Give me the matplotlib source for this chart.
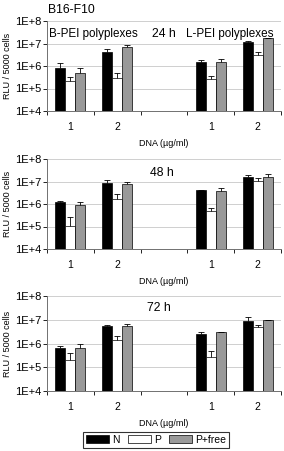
import matplotlib
matplotlib.use("Agg")
import matplotlib.pyplot as plt
import numpy as np

plt.rcParams['font.family'] = ['Liberation Sans', 'DejaVu Sans']

# category labels along x (blank slot separates B-PEI from L-PEI)
cats = ["1", "2", "", "1", "2"]
series = ["N", "P", "P+free"]
colors = ["black", "white", "#999999"]

# values per panel: [B1, B2, gap, L1, L2]
n_24 = [8.5e5, 4.0e6, np.nan, 1.5e6, 1.12e7]
p_24 = [2.2e5, 2.8e5, np.nan, 2.6e5, 3.1e6]
pf_24 = [4.7e5, 6.8e6, np.nan, 1.45e6, 1.7e7]
n_24_err = [1.3e6, 5.5e6, np.nan, 1.85e6, 1.3e7]
p_24_err = [3.1e5, 4.7e5, np.nan, 3.6e5, 4.0e6]
pf_24_err = [7.9e5, 8.5e6, np.nan, 2.0e6, 1.8e7]

n_48 = [1.18e6, 8.9e6, np.nan, 4.0e6, 1.6e7]
p_48 = [1.1e5, 1.6e6, np.nan, 5.0e5, 1.1e7]
pf_48 = [8.7e5, 8.0e6, np.nan, 3.9e6, 1.6e7]
n_48_err = [1.3e6, 1.12e7, np.nan, 4.3e6, 1.9e7]
p_48_err = [2.6e5, 2.7e6, np.nan, 6.4e5, 1.5e7]
pf_48_err = [1.18e6, 1.0e7, np.nan, 5.0e6, 2.1e7]

n_72 = [6.7e5, 5.5e6, np.nan, 2.5e6, 9.1e6]
p_72 = [2.0e5, 1.4e6, np.nan, 2.8e5, 5.1e6]
pf_72 = [6.3e5, 5.5e6, np.nan, 2.95e6, 9.8e6]
n_72_err = [7.8e5, 5.8e6, np.nan, 2.95e6, 1.26e7]
p_72_err = [4.1e5, 2.1e6, np.nan, 4.8e5, 6.0e6]
pf_72_err = [9.2e5, 6.6e6, np.nan, 3.1e6, 1.0e7]

panels = [
    ("24 h", [n_24, p_24, pf_24], [n_24_err, p_24_err, pf_24_err]),
    ("48 h", [n_48, p_48, pf_48], [n_48_err, p_48_err, pf_48_err]),
    ("72 h", [n_72, p_72, pf_72], [n_72_err, p_72_err, pf_72_err]),
]

W, H = 284, 451
fig = plt.figure(figsize=(W / 100, H / 100), dpi=100)

# (top px, bottom px) of each axes, and where the time label sits
boxes = [(21, 111), (159, 249), (296, 391)]
title_pos = [(0.5, 0.86), (0.49, 0.84), (0.48, 0.87)]
left, right = 47, 281

x = np.arange(len(cats))
bw = 0.215
handles = []
for k, ((title, vals, errs), (t, b)) in enumerate(zip(panels, boxes)):
    ax = fig.add_axes([left / W, 1 - b / H, (right - left) / W, (b - t) / H])
    ax.set_yscale("log")
    ax.set_ylim(1e4, 1e8)
    ax.set_xlim(-0.5, len(cats) - 0.5)
    ax.set_axisbelow(True)
    ax.yaxis.grid(True, color="#c8c8c8", lw=0.6)
    for i, (v, e) in enumerate(zip(vals, errs)):
        v = np.array(v)
        e = np.array(e)
        pos = x + (i - 1) * bw
        bars = ax.bar(pos, v, bw, color=colors[i], edgecolor="black", lw=0.5,
                      label=series[i])
        eb = ax.errorbar(pos, v, yerr=[np.zeros_like(v), e - v], fmt="none",
                         ecolor="black", elinewidth=0.6, capsize=2.2,
                         capthick=0.6)
        # only the upper cap is shown
        eb[1][0].set_visible(False)
        if k == 0:
            handles.append(bars)
    ax.set_yticks([1e4, 1e5, 1e6, 1e7, 1e8])
    ax.set_yticklabels(["1E+4", "1E+5", "1E+6", "1E+7", "1E+8"], fontsize=8)
    ax.yaxis.set_minor_locator(matplotlib.ticker.NullLocator())
    ax.tick_params(axis="y", length=3, width=0.6, pad=1)
    ax.set_xticks(np.arange(len(cats) + 1) - 0.5)
    ax.set_xticklabels([])
    ax.set_xticks(x, minor=True)
    ax.set_xticklabels(cats, minor=True, fontsize=7.5)
    ax.tick_params(axis="x", which="major", length=3, width=0.6)
    ax.tick_params(axis="x", which="minor", length=0, pad=8)
    for s in ["top", "right"]:
        ax.spines[s].set_visible(False)
    for s in ["left", "bottom"]:
        ax.spines[s].set_color("#707070")
        ax.spines[s].set_linewidth(0.7)
    ax.set_ylabel("RLU / 5000 cells", fontsize=6.5, labelpad=2)
    ax.set_xlabel("DNA (µg/ml)", fontsize=6.5, labelpad=5)
    tx, ty = title_pos[k]
    ax.text(tx, ty, title, transform=ax.transAxes, fontsize=8.8,
            va="center", ha="center")
    if k == 0:
        ax.text(0.01, 0.86, "B-PEI polyplexes", transform=ax.transAxes,
                fontsize=8.4, va="center", ha="left")
        ax.text(0.966, 0.86, "L-PEI polyplexes", transform=ax.transAxes,
                fontsize=8.4, va="center", ha="right")

fig.text(48 / W, 1 - 10 / H, "B16-F10", fontsize=8.8, va="center", ha="left")

leg = fig.legend(handles=handles, labels=series, loc="center",
                 bbox_to_anchor=(156 / W, 1 - 440 / H), ncol=3, fontsize=7.5,
                 frameon=True, fancybox=False, edgecolor="black",
                 handlelength=2.2, handleheight=0.8, handletextpad=0.3,
                 columnspacing=0.8, borderpad=0.3)
leg.get_frame().set_linewidth(0.8)

fig.savefig("out.png", dpi=100)
